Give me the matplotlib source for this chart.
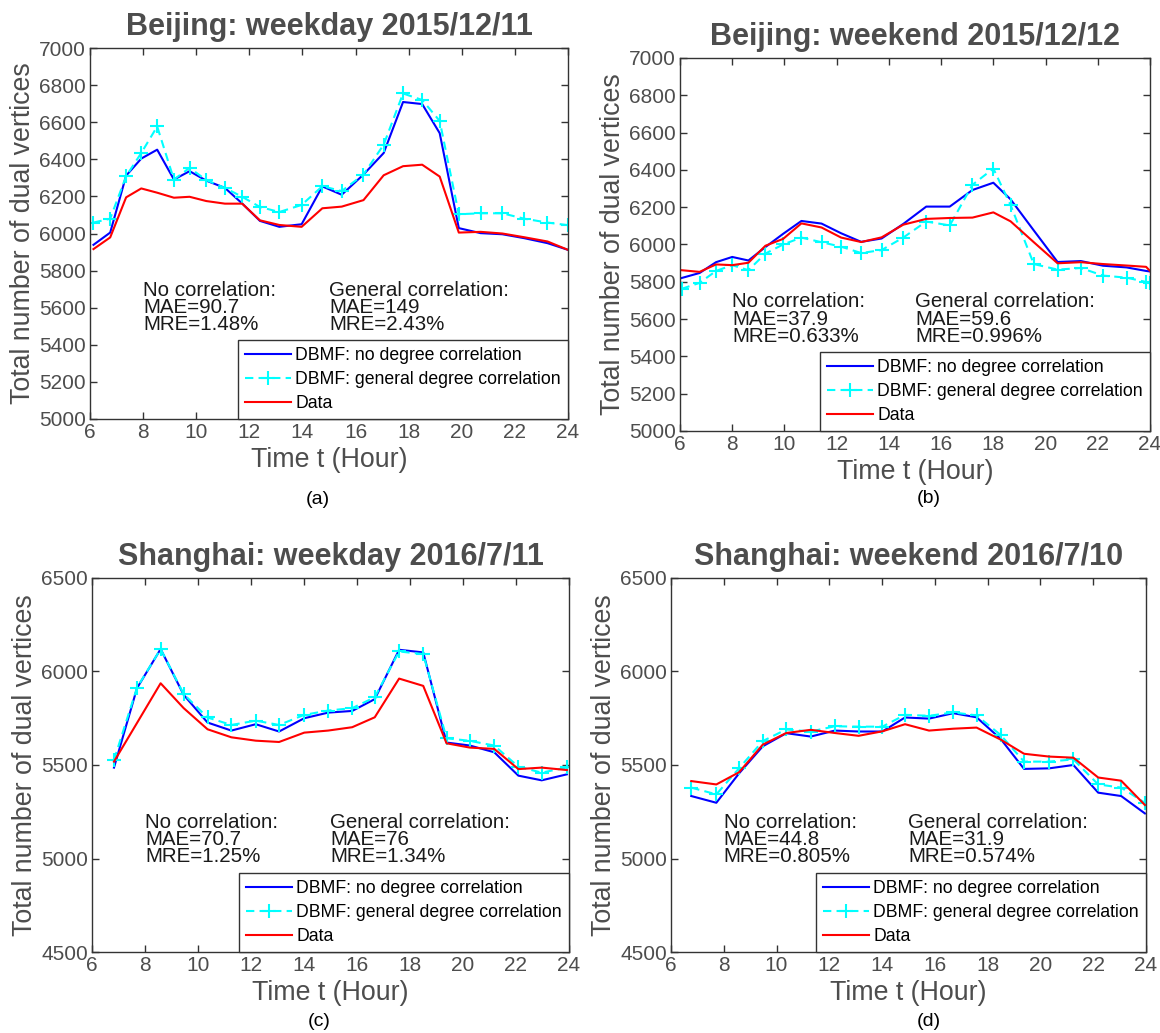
import matplotlib
matplotlib.use('Agg')
import matplotlib.pyplot as plt

plt.rcParams['font.family'] = ['Liberation Sans', 'DejaVu Sans']

# 北京 平日 (2015/12/11)
hours_a = [6.13, 6.76, 7.36, 7.93, 8.53, 9.16, 9.75, 10.38, 11.08, 11.73, 12.40, 13.13, 13.97,
           14.75, 15.48, 16.30, 17.06, 17.79, 18.51, 19.17, 19.89, 20.71, 21.53, 22.35, 23.23, 24.0]
nodeg_a = [5939, 6005, 6312, 6404, 6452, 6291, 6336, 6285, 6246, 6162, 6068, 6036, 6050,
           6254, 6209, 6318, 6434, 6709, 6698, 6541, 6029, 6002, 5996, 5975, 5948, 5912]
gendeg_a = [6059, 6080, 6309, 6434, 6577, 6291, 6354, 6288, 6246, 6198, 6143, 6116, 6154,
            6255, 6229, 6318, 6479, 6755, 6720, 6607, 6104, 6109, 6109, 6080, 6059, 6045]
data_a = [5916, 5979, 6195, 6243, 6220, 6193, 6198, 6175, 6161, 6161, 6071, 6046, 6036,
          6136, 6145, 6180, 6314, 6363, 6371, 6307, 6005, 6009, 6000, 5980, 5957, 5912]

# 北京 週末 (2015/12/12)
hours_b = [6.06, 6.75, 7.38, 8.0, 8.62, 9.27, 9.95, 10.65, 11.42, 12.17, 12.94, 13.72, 14.55,
           15.43, 16.33, 17.2, 18.0, 18.66, 19.55, 20.46, 21.35, 22.2, 23.1, 23.85, 24.0]
nodeg_b = [5820, 5847, 5905, 5933, 5914, 5986, 6057, 6126, 6112, 6060, 6014, 6032, 6110,
           6203, 6203, 6292, 6331, 6242, 6075, 5906, 5911, 5886, 5877, 5858, 5855]
gendeg_b = [5762, 5794, 5858, 5889, 5862, 5951, 6000, 6037, 6012, 5988, 5954, 5970, 6037,
            6123, 6102, 6320, 6407, 6211, 5895, 5865, 5874, 5833, 5822, 5799, 5795]
data_b = [5862, 5853, 5893, 5889, 5902, 5993, 6030, 6113, 6091, 6037, 6013, 6038, 6106,
          6137, 6142, 6144, 6172, 6124, 6012, 5899, 5905, 5895, 5887, 5880, 5858]

# 上海 平日 (2016/7/11)
hours_c = [6.83, 7.70, 8.59, 9.46, 10.36, 11.26, 12.18, 13.06, 14.01, 14.91,
           15.82, 16.67, 17.59, 18.50, 19.38, 20.26, 21.18, 22.09, 22.97, 23.92]
nodeg_c = [5486, 5911, 6120, 5875, 5727, 5684, 5718, 5679, 5750, 5780,
           5789, 5852, 6116, 6102, 5620, 5604, 5568, 5443, 5418, 5450]
gendeg_c = [5527, 5914, 6120, 5879, 5754, 5714, 5737, 5714, 5768, 5791,
            5804, 5862, 6107, 6093, 5643, 5629, 5604, 5491, 5459, 5487]
data_c = [5518, 5725, 5937, 5804, 5691, 5648, 5630, 5623, 5673, 5684,
          5702, 5755, 5962, 5923, 5616, 5593, 5586, 5478, 5486, 5473]

# 上海 週末 (2016/7/10)
hours_d = [6.77, 7.72, 8.58, 9.48, 10.37, 11.30, 12.21, 13.11, 14.01, 14.87,
           15.78, 16.70, 17.58, 18.49, 19.38, 20.33, 21.25, 22.19, 23.06, 23.96]
nodeg_d = [5334, 5298, 5455, 5600, 5670, 5652, 5684, 5679, 5679, 5754,
           5748, 5777, 5755, 5640, 5479, 5482, 5500, 5352, 5334, 5241]
gendeg_d = [5379, 5343, 5482, 5628, 5690, 5679, 5707, 5705, 5705, 5768,
            5763, 5781, 5765, 5661, 5518, 5518, 5530, 5396, 5379, 5298]
data_d = [5414, 5396, 5461, 5609, 5671, 5688, 5671, 5656, 5680, 5718,
          5684, 5694, 5700, 5636, 5560, 5545, 5539, 5433, 5416, 5286]

titles = ['Beijing: weekday 2015/12/11', 'Beijing: weekend 2015/12/12',
          'Shanghai: weekday 2016/7/11', 'Shanghai: weekend 2016/7/10']
captions = ['(a)', '(b)', '(c)', '(d)']
mae_no = ['90.7', '37.9', '70.7', '44.8']
mre_no = ['1.48', '0.633', '1.25', '0.805']
mae_gen = ['149', '59.6', '76', '31.9']
mre_gen = ['2.43', '0.996', '1.34', '0.574']

fig = plt.figure(figsize=(11.6, 10.33), dpi=100)

# 各パネルの位置 [left, bottom, width, height]
rects = [[0.0776, 0.5944, 0.412, 0.3591],
         [0.5862, 0.5828, 0.4052, 0.3611],
         [0.0793, 0.0784, 0.4112, 0.3621],
         [0.5784, 0.0784, 0.4095, 0.3621]]
caption_xy = [(0.274, 0.516), (0.801, 0.517), (0.275, 0.011), (0.801, 0.011)]

panels = [(hours_a, nodeg_a, gendeg_a, data_a),
          (hours_b, nodeg_b, gendeg_b, data_b),
          (hours_c, nodeg_c, gendeg_c, data_c),
          (hours_d, nodeg_d, gendeg_d, data_d)]

gray = '#4d4d4d'
for i, (h, nd, gd, dd) in enumerate(panels):
    ax = fig.add_axes(rects[i])
    ax.plot(h, nd, color='#0000ff', lw=1.5, label='DBMF: no degree correlation')
    ax.plot(h, gd, color='#00ffff', lw=1.5, ls='--', dashes=(4, 2.5), marker='+', ms=10, mew=1.5,
            label='DBMF: general degree correlation')
    ax.plot(h, dd, color='#ff0000', lw=1.5, label='Data')

    ax.set_xlim(6, 24)
    ax.set_xticks(range(6, 25, 2))
    if i < 2:
        ax.set_ylim(5000, 7000)
        ax.set_yticks(range(5000, 7001, 200))
        ty = 5600
    else:
        ax.set_ylim(4500, 6500)
        ax.set_yticks(range(4500, 6501, 500))
        ty = 5100

    # 誤差の注記
    ax.text(8, ty, 'No correlation:\nMAE=%s\nMRE=%s%%' % (mae_no[i], mre_no[i]),
            fontsize=14.8, color='#1a1a1a', va='center', linespacing=0.88)
    ax.text(15, ty, 'General correlation:\nMAE=%s\nMRE=%s%%' % (mae_gen[i], mre_gen[i]),
            fontsize=14.8, color='#1a1a1a', va='center', linespacing=0.88)

    ax.tick_params(direction='in', top=True, right=True, length=5, width=1,
                   labelsize=15, labelcolor=gray, color='#333333', pad=3)
    for s in ax.spines.values():
        s.set_color('#333333')
        s.set_linewidth(1)
    ax.set_xlabel('Time t (Hour)', fontsize=19.3, color=gray, labelpad=3.5)
    ax.set_ylabel('Total number of dual vertices', fontsize=19.3, color=gray, labelpad=2)
    ax.set_title(titles[i], fontsize=22, fontweight='bold', color=gray, pad=9.5)

    leg = ax.legend(loc='lower right', borderaxespad=0, fancybox=False, framealpha=1,
                    edgecolor='#333333', fontsize=12.7, handlelength=2.6,
                    handletextpad=0.25, labelspacing=0.4, borderpad=0.4)
    leg.get_frame().set_linewidth(1)

    fig.text(caption_xy[i][0], caption_xy[i][1], captions[i], fontsize=14,
             ha='center', va='center')

fig.savefig('out.png', dpi=100)
